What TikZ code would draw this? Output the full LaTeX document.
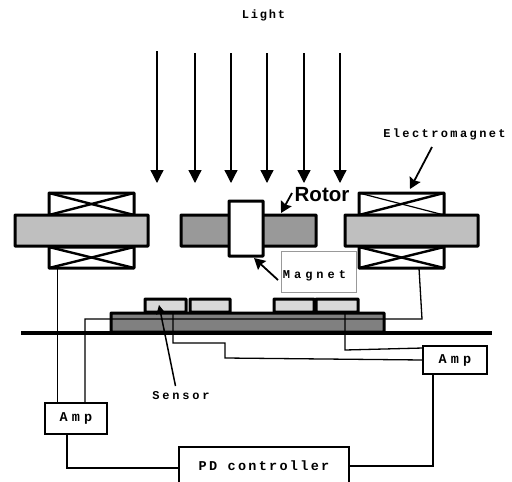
\documentclass[tikz,border=0pt]{standalone}
\usepackage{fontspec}
\setmainfont{Liberation Sans}
\setmonofont{Liberation Mono}
\usetikzlibrary{arrows.meta}
\newcommand{\spaced}[2]{{\addfontfeature{LetterSpace=#1}#2}}

\begin{document}
\begin{tikzpicture}[
            x=1pt, y=-1pt,
            block/.style={draw, line width=3pt, rounded corners=0.5pt, inner sep=0pt, outer sep=0pt},
            coilbox/.style={block, fill=white, minimum width=85pt},
            corebox/.style={block, fill=black!25, minimum width=133pt, minimum height=31pt},
            rotorbox/.style={block, fill=black!40},
            sensorbox/.style={block, fill=black!15, minimum height=13pt},
            basebox/.style={block, fill=black!50},
            ctrlbox/.style={draw, line width=1.3pt, fill=white, font=\ttfamily\bfseries\fontsize{13.5}{15}\selectfont, inner sep=0pt, outer sep=0pt},
            tag/.style={font=\ttfamily\bfseries\fontsize{12}{14}\selectfont, inner sep=0pt},
            wire/.style={line width=1.3pt},
            thinx/.style={line width=1.2pt},
            thickx/.style={line width=2.4pt},
            arrow/.style={-{Triangle[length=13pt, width=13pt]}, line width=1.3pt},
            pointer/.style={-{Stealth[length=11pt, width=12pt, inset=1.5pt]}, line width=1.8pt}
        ]
            \useasboundingbox (0,0) rectangle (512,482);
            \clip (0,0) rectangle (512,482);
            % light
            \node[tag] (light) at (263.5,15) {\spaced{15}{Light}};
            \foreach \px/\py/\name in {157/51/a, 195/53/b, 231/53/c, 267/53/d, 304/53/e, 340/53/f} {
                \coordinate (top\name) at (\px,\py);
                \coordinate (low\name) at (\px,183);
                \draw[arrow] (top\name) -- (low\name);
            }
            % coils
            \node[coilbox, minimum height=22pt] (coilleftup) at (91.5,204) {};
            \node[coilbox, minimum height=21pt] (coilleftlow) at (91.5,257.5) {};
            \node[coilbox, minimum height=22pt] (coilrightup) at (401.5,204) {};
            \node[coilbox, minimum height=21pt] (coilrightlow) at (401.5,257.5) {};
            \draw[thickx] (coilleftup.north west) -- (coilleftup.south east);
            \draw[thickx] (coilleftup.south west) -- (coilleftup.north east);
            \draw[thickx] (coilleftlow.north west) -- (coilleftlow.south east);
            \draw[thickx] (coilleftlow.south west) -- (coilleftlow.north east);
            \draw[thinx] (coilrightup.north west) -- (coilrightup.south east);
            \draw[thickx] (coilrightup.south west) -- (coilrightup.north east);
            \draw[thickx] (coilrightlow.north west) -- (coilrightlow.south east);
            \draw[thickx] (coilrightlow.south west) -- (coilrightlow.north east);
            \node[corebox] (coreleft) at (81.5,230.5) {};
            \node[corebox] (coreright) at (411.5,230.5) {};
            % rotor
            \node[rotorbox, minimum width=135pt, minimum height=31pt] (rotor) at (248.5,230.5) {};
            \node[block, fill=white, minimum width=34pt, minimum height=55pt] (magnet) at (246,228.5) {};
            \node[font=\bfseries\fontsize{20.5}{22}\selectfont, inner sep=0pt] (rotorlabel) at (322,195) {Rotor};
            \coordinate (rotorfrom) at (292,193);
            \coordinate (rotorto) at (281,213);
            \draw[pointer] (rotorfrom) -- (rotorto);
            % labels
            \node[draw=black!40, line width=0.7pt, minimum width=75pt, minimum height=41pt, inner sep=0pt] (magnetlabel) at (318.5,271.5) {};
            \node[tag] (magnettext) at (314.5,276) {\spaced{33}{Magnet}};
            \coordinate (magnetfrom) at (278,280);
            \coordinate (magnetto) at (254,258);
            \draw[pointer] (magnetfrom) -- (magnetto);
            \node[tag] (emlabel) at (444.5,134) {\spaced{20}{Electromagnet}};
            \coordinate (emfrom) at (432,147);
            \coordinate (emto) at (410,189);
            \draw[pointer] (emfrom) -- (emto);
            % base and sensors
            \node[basebox, minimum width=273pt, minimum height=19pt] (base) at (247.5,322.5) {};
            \foreach \cx/\sw/\name in {165.5/41/sa, 210/40/sb, 294/40/sc, 337/42/sd} {
                \node[sensorbox, minimum width=\sw pt] (\name) at (\cx,305.5) {};
            }
            \draw[line width=4.5pt] (21,333) coordinate (floorleft) -- (492,333) coordinate (floorright);
            % amps and controller
            \node[ctrlbox, minimum width=62pt, minimum height=31pt] (ampleft) at (76,418.5) {\spaced{31}{Amp}\hspace{13pt}};
            \node[ctrlbox, minimum width=64pt, minimum height=28pt] (ampright) at (455,360) {\spaced{31}{Amp}\hspace{8pt}};
            \node[ctrlbox, minimum width=170pt, minimum height=38pt] (pd) at (264,466) {\spaced{17}{PD controller}\hspace{5pt}};
            % wires
            \coordinate (wa) at (57.5,268);
            \coordinate (wb) at (85,403);
            \coordinate (wc) at (419,268);
            \draw[wire] (wa) -- (wa |- ampleft.north);
            \draw[wire] (wb) -- (85,319) -- (422,319) -- (wc);
            \draw[wire] (173,312) -- (173,343) -- (225,343) -- (225,358) -- (ampright.west);
            \draw[wire] (345,313) -- (345,350) -- (423,348);
            \draw[wire] (67,434) -- (67,468) -- ([yshift=-2pt]pd.west);
            \draw[wire] (433,374) -- (433,466) -- (pd.east);
            % sensor
            \node[tag] (sensorlabel) at (181,396) {\spaced{23}{Sensor}};
            \coordinate (sensorfrom) at (175.5,386);
            \coordinate (sensorto) at (159,305);
            \draw[line width=1.5pt, -{Stealth[length=9pt, width=9pt, inset=1.5pt]}] (sensorfrom) -- (sensorto);
        \end{tikzpicture}
\end{document}
